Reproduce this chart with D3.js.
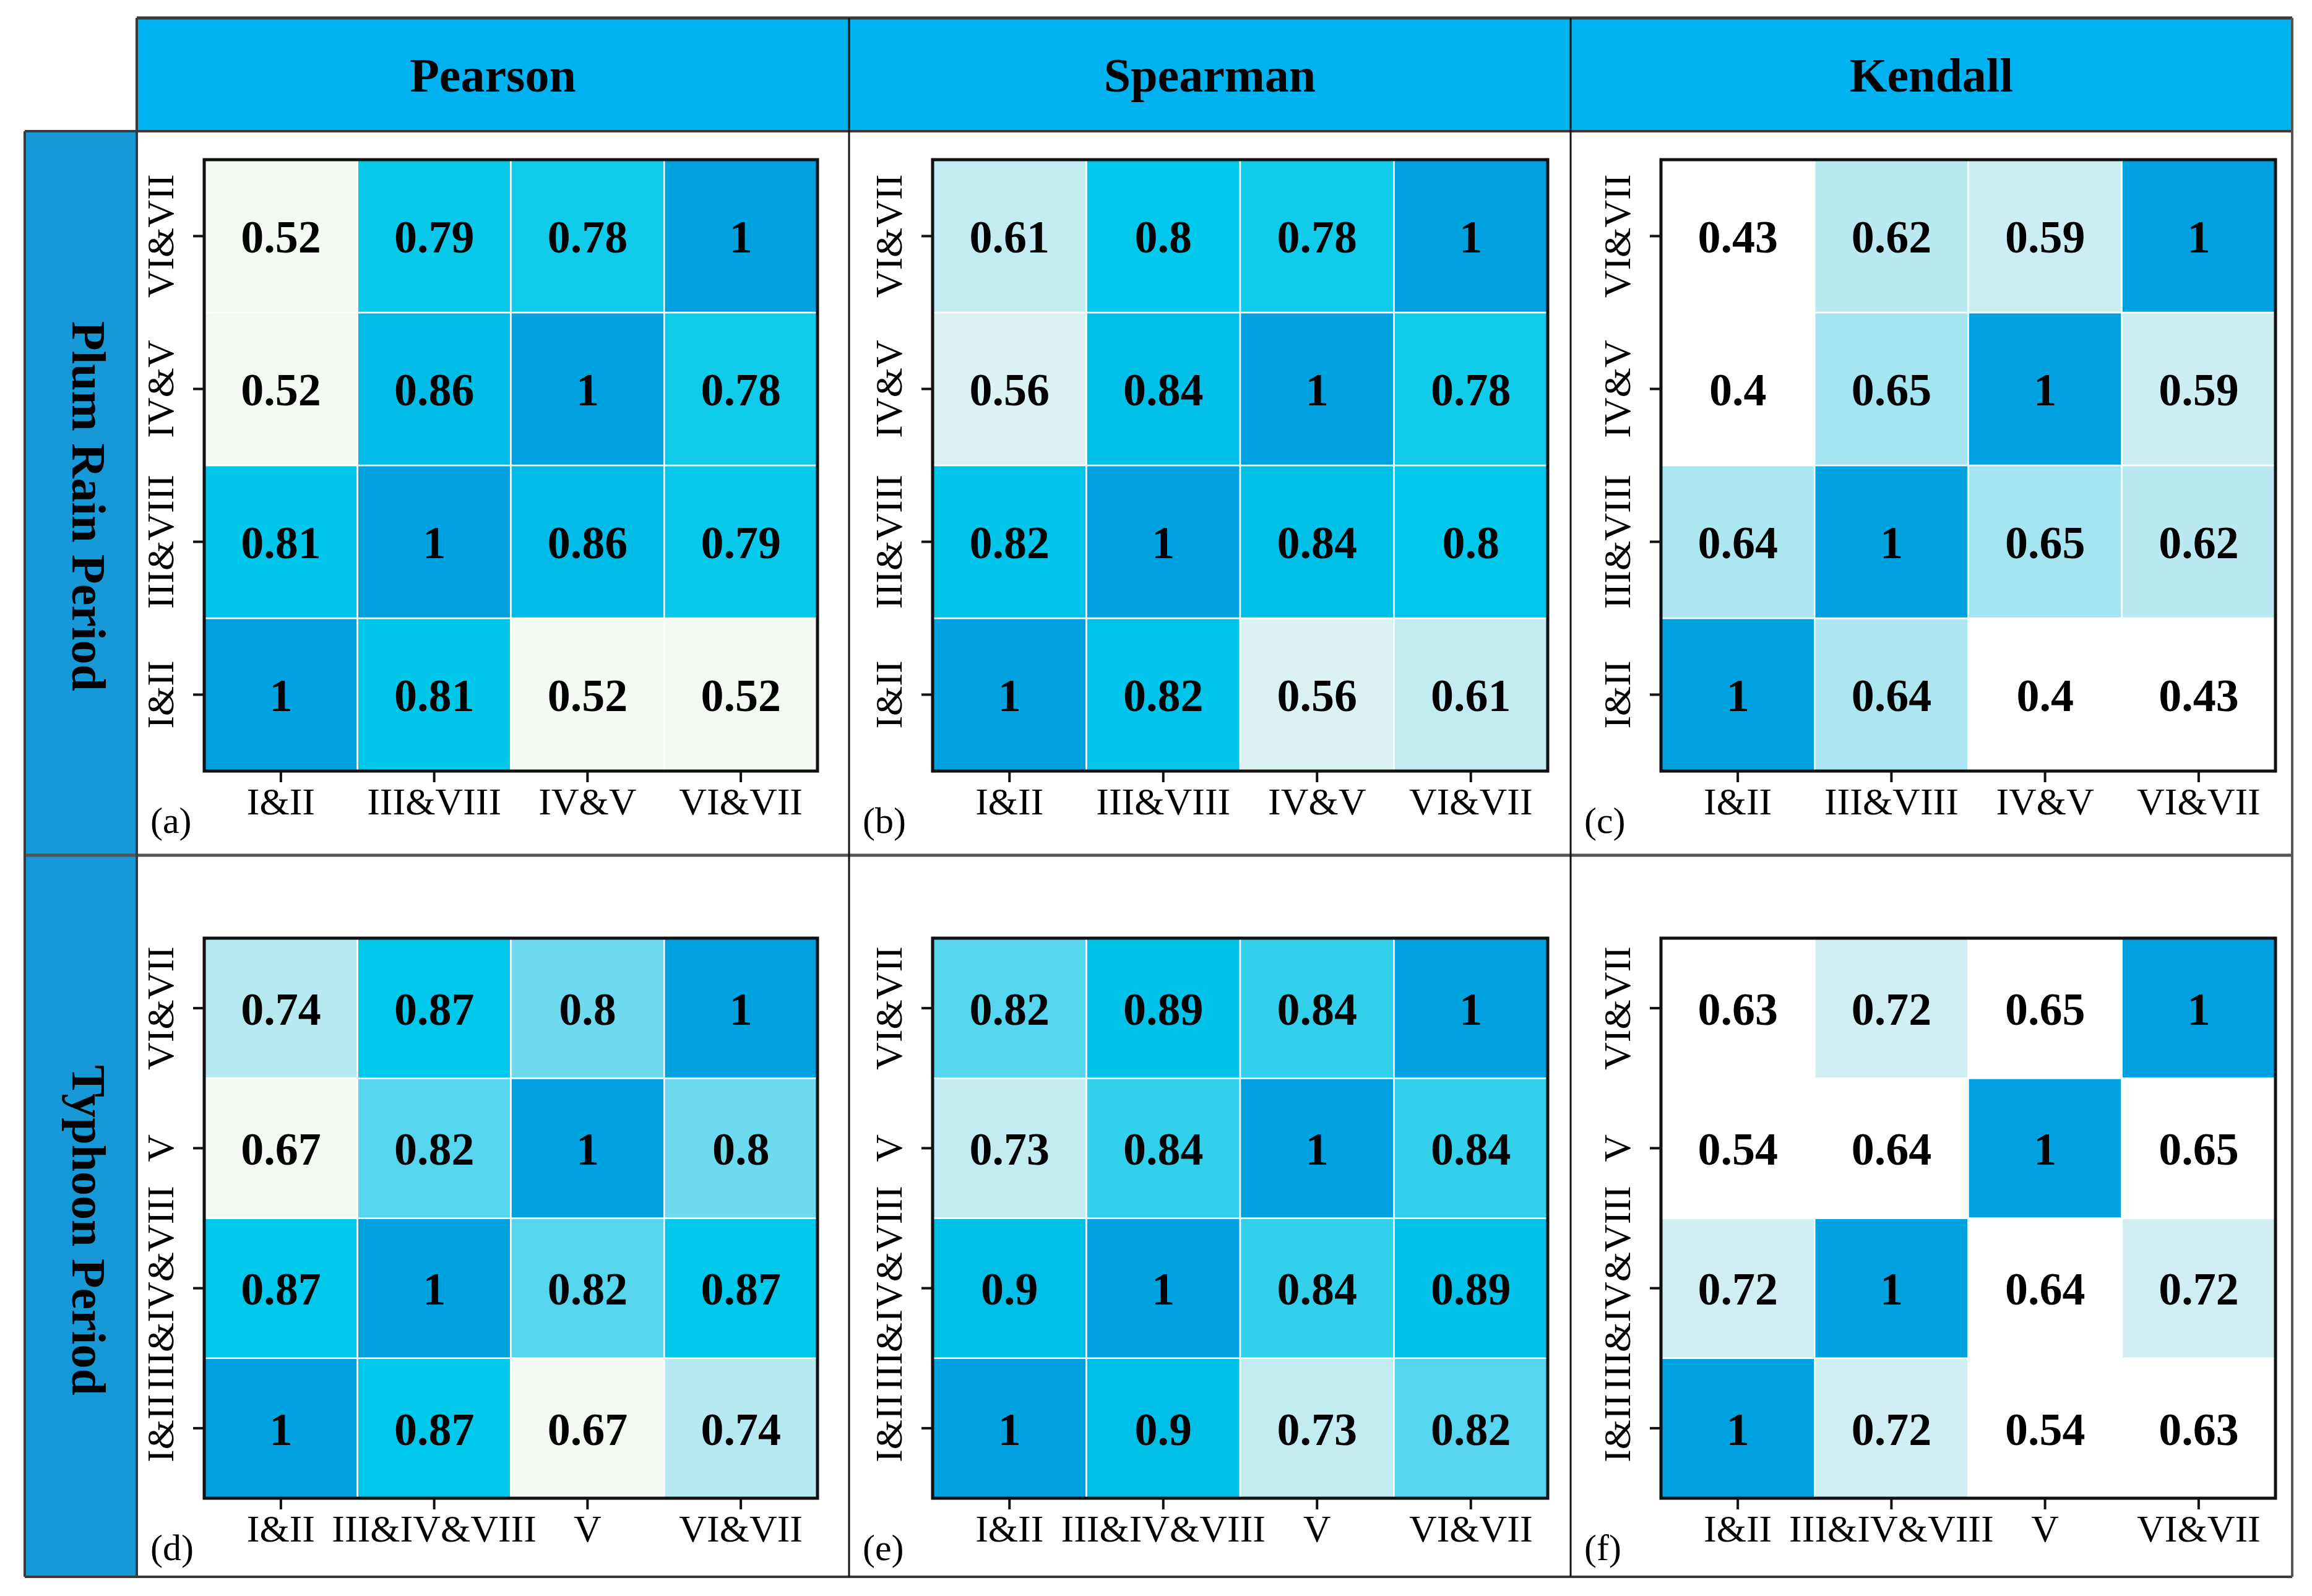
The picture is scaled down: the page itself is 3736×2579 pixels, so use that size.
<!DOCTYPE html>
<html>
<head>
<meta charset="utf-8">
<script src="https://cdn.jsdelivr.net/npm/d3@7"></script>
<style>
  body { margin: 0; background: #fff; }
  text { font-family: "Liberation Serif", "Times New Roman", serif; }
</style>
</head>
<body>
<script>
// categories
var methods = ["Pearson", "Spearman", "Kendall"];
var periods = ["Plum Rain Period", "Typhoon Period"];
var plum_cats = ["I&II", "III&VIII", "IV&V", "VI&VII"];
var typhoon_cats = ["I&II", "III&IV&VIII", "V", "VI&VII"];
var panel_tags = [["(a)", "(b)", "(c)"], ["(d)", "(e)", "(f)"]];

// correlation matrices, rows in category order (I&II first)
var plum_pearson = [
  [1, 0.81, 0.52, 0.52],
  [0.81, 1, 0.86, 0.79],
  [0.52, 0.86, 1, 0.78],
  [0.52, 0.79, 0.78, 1]
];
var plum_spearman = [
  [1, 0.82, 0.56, 0.61],
  [0.82, 1, 0.84, 0.8],
  [0.56, 0.84, 1, 0.78],
  [0.61, 0.8, 0.78, 1]
];
var plum_kendall = [
  [1, 0.64, 0.4, 0.43],
  [0.64, 1, 0.65, 0.62],
  [0.4, 0.65, 1, 0.59],
  [0.43, 0.62, 0.59, 1]
];
var typhoon_pearson = [
  [1, 0.87, 0.67, 0.74],
  [0.87, 1, 0.82, 0.87],
  [0.67, 0.82, 1, 0.8],
  [0.74, 0.87, 0.8, 1]
];
var typhoon_spearman = [
  [1, 0.9, 0.73, 0.82],
  [0.9, 1, 0.84, 0.89],
  [0.73, 0.84, 1, 0.84],
  [0.82, 0.89, 0.84, 1]
];
var typhoon_kendall = [
  [1, 0.72, 0.54, 0.63],
  [0.72, 1, 0.64, 0.72],
  [0.54, 0.64, 1, 0.65],
  [0.63, 0.72, 0.65, 1]
];

var W = 3736, H = 2579;

// frame layout
var colX = [221, 1372, 2538, 3704];
var rowY = [212, 1382, 2548];
var headTop = 29;
var labelLeft = 40;
// heatmap extents inside each cell of the frame
var mapX = [[330, 1321], [1507, 2501], [2684, 3677]];
var mapY = [[258, 1246], [1516, 2421]];

// shared colour ramp, per panel domains
var ramp = ["#ffffff", "#f4f9f4", "#c3ebf2", "#55d5ee", "#00c8ea", "#00a1df"];
var color_domains = [
  [[0.40, 0.52, 0.60, 0.70, 0.80, 1.0], [0.40, 0.51, 0.61, 0.70, 0.80, 1.0], [0.43, 0.50, 0.61, 0.75, 0.85, 1.0]],
  [[0.60, 0.67, 0.73, 0.82, 0.87, 1.0], [0.60, 0.66, 0.73, 0.82, 0.87, 1.0], [0.65, 0.67, 0.74, 0.82, 0.88, 1.0]]
];

var matrices = [
  [plum_pearson, plum_spearman, plum_kendall],
  [typhoon_pearson, typhoon_spearman, typhoon_kendall]
];
var cats_by_row = [plum_cats, typhoon_cats];

var svg = d3.select("body").append("svg")
  .attr("width", W)
  .attr("height", H);

// header band
svg.append("rect")
  .attr("x", colX[0]).attr("y", headTop)
  .attr("width", colX[3] - colX[0]).attr("height", rowY[0] - headTop)
  .attr("fill", "#00b2f0");

methods.forEach(function(m, i){
  svg.append("text")
    .attr("x", (colX[i] + colX[i+1]) / 2)
    .attr("y", (headTop + rowY[0]) / 2)
    .attr("dy", "0.35em")
    .attr("text-anchor", "middle")
    .style("font-weight", "bold")
    .style("font-size", "78px")
    .text(m);
});

// row label band
svg.append("rect")
  .attr("x", labelLeft).attr("y", rowY[0])
  .attr("width", colX[0] - labelLeft).attr("height", rowY[2] - rowY[0])
  .attr("fill", "#1799d8");

var label_centers = [818, 1988];
periods.forEach(function(p, r){
  svg.append("text")
    .attr("transform", "translate(117," + label_centers[r] + ") rotate(90)")
    .attr("text-anchor", "middle")
    .style("font-weight", "bold")
    .style("font-size", "78px")
    .text(p);
});

// heatmaps
matrices.forEach(function(rowMats, r){
  var cats = cats_by_row[r];
  rowMats.forEach(function(mat, c){
    var x = d3.scaleBand().domain(cats).range(mapX[c]);
    var y = d3.scaleBand().domain(cats.slice().reverse()).range(mapY[r]);
    var col = d3.scaleLinear().domain(color_domains[r][c]).range(ramp).clamp(true);

    var cells = [];
    mat.forEach(function(row, i){
      row.forEach(function(v, j){
        cells.push({row: cats[i], col: cats[j], value: v});
      });
    });

    var g = svg.append("g");

    g.selectAll("rect.cell")
      .data(cells)
      .enter()
      .append("rect")
      .attr("class", "cell")
      .attr("x", function(d){ return x(d.col); })
      .attr("y", function(d){ return y(d.row); })
      .attr("width", x.bandwidth())
      .attr("height", y.bandwidth())
      .attr("fill", function(d){ return col(d.value); })
      .attr("stroke", "#ffffff")
      .attr("stroke-width", 2.5);

    g.selectAll("text.val")
      .data(cells)
      .enter()
      .append("text")
      .attr("class", "val")
      .attr("x", function(d){ return x(d.col) + x.bandwidth() / 2; })
      .attr("y", function(d){ return y(d.row) + y.bandwidth() / 2; })
      .attr("dy", "0.36em")
      .attr("text-anchor", "middle")
      .style("font-weight", "bold")
      .style("font-size", "74px")
      .style("fill", "#000")
      .text(function(d){ return String(d.value); });

    // border
    g.append("rect")
      .attr("x", mapX[c][0]).attr("y", mapY[r][0])
      .attr("width", mapX[c][1] - mapX[c][0])
      .attr("height", mapY[r][1] - mapY[r][0])
      .attr("fill", "none")
      .attr("stroke", "#111")
      .attr("stroke-width", 5);

    // x axis
    var gx = g.append("g")
      .attr("transform", "translate(0," + mapY[r][1] + ")")
      .call(d3.axisBottom(x).tickSize(18).tickPadding(8));
    gx.select(".domain").remove();
    gx.selectAll(".tick line").attr("stroke", "#111").attr("stroke-width", 4);
    gx.selectAll(".tick text")
      .attr("fill", "#000")
      .style("font-family", "'Liberation Serif', 'Times New Roman', serif")
      .style("font-size", "62px");

    // y axis
    var gy = g.append("g")
      .attr("transform", "translate(" + mapX[c][0] + ",0)")
      .call(d3.axisLeft(y).tickSize(18));
    gy.select(".domain").remove();
    gy.selectAll(".tick line").attr("stroke", "#111").attr("stroke-width", 4);
    gy.selectAll(".tick text")
      .attr("x", null)
      .attr("dy", null)
      .attr("transform", "translate(-50,0) rotate(-90)")
      .attr("text-anchor", "middle")
      .attr("fill", "#000")
      .style("font-family", "'Liberation Serif', 'Times New Roman', serif")
      .style("font-size", "62px");

    // panel tag
    g.append("text")
      .attr("x", colX[c] + 22)
      .attr("y", mapY[r][1] + 100)
      .style("font-size", "60px")
      .text(panel_tags[r][c]);
  });
});

// frame lines
var frame = svg.append("g")
  .attr("fill", "none")
  .attr("stroke", "#3a3a3a");

frame.append("line")
  .attr("x1", colX[0]).attr("x2", colX[3])
  .attr("y1", headTop).attr("y2", headTop)
  .attr("stroke-width", 5);
frame.append("line")
  .attr("x1", labelLeft).attr("x2", colX[3])
  .attr("y1", rowY[0]).attr("y2", rowY[0])
  .attr("stroke-width", 4);
frame.append("line")
  .attr("x1", labelLeft).attr("x2", colX[3])
  .attr("y1", rowY[1]).attr("y2", rowY[1])
  .attr("stroke", "#555")
  .attr("stroke-width", 5);
frame.append("line")
  .attr("x1", labelLeft).attr("x2", colX[3])
  .attr("y1", rowY[2]).attr("y2", rowY[2])
  .attr("stroke-width", 4);
frame.append("line")
  .attr("x1", labelLeft).attr("x2", labelLeft)
  .attr("y1", rowY[0]).attr("y2", rowY[2])
  .attr("stroke-width", 4);
frame.append("line")
  .attr("x1", colX[0]).attr("x2", colX[0])
  .attr("y1", headTop).attr("y2", rowY[2])
  .attr("stroke-width", 4);
frame.append("line")
  .attr("x1", colX[1]).attr("x2", colX[1])
  .attr("y1", headTop).attr("y2", rowY[2])
  .attr("stroke", "#111")
  .attr("stroke-width", 3);
frame.append("line")
  .attr("x1", colX[2]).attr("x2", colX[2])
  .attr("y1", headTop).attr("y2", rowY[2])
  .attr("stroke", "#111")
  .attr("stroke-width", 3);
frame.append("line")
  .attr("x1", colX[3]).attr("x2", colX[3])
  .attr("y1", headTop).attr("y2", rowY[2])
  .attr("stroke", "#555")
  .attr("stroke-width", 4);
</script>
</body>
</html>
